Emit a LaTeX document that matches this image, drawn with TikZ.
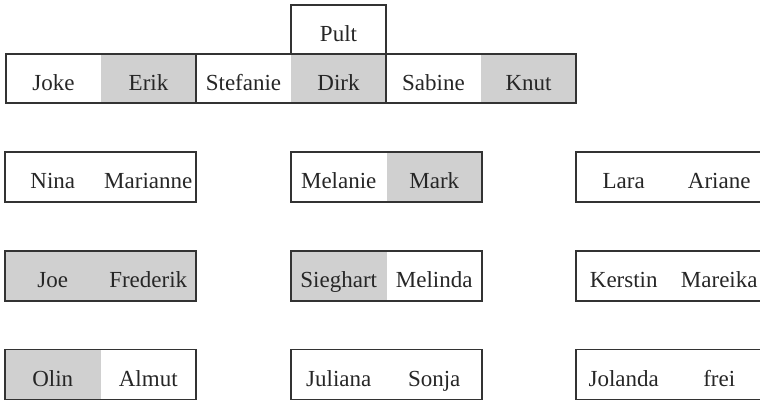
\documentclass[tikz,border=0pt]{standalone}
\usepackage{fontspec}
\setmainfont{Liberation Serif}
\definecolor{seat}{HTML}{D0D0D0}
\definecolor{edge}{HTML}{333333}
\begin{document}
\begin{tikzpicture}[x=1pt,y=-1pt,
  cell/.style={minimum width=95pt, minimum height=49pt, inner sep=0pt, outer sep=0pt,
    text height=23pt, text depth=0pt, font=\fontsize{23}{27}\selectfont, text=black!85},
  wcell/.style={cell, minimum width=95.5pt, minimum height=50pt},
  occ/.style={fill=seat},
  desk/.style={draw=edge, line width=1.7pt}]
\useasboundingbox (0,0) rectangle (760,399);
\clip (0,0) rectangle (760,399);
% teacher desk row
\node[cell] (joke) at (53.5,78.5) {Joke};
\node[cell,occ] (erik) at (148.5,78.5) {Erik};
\node[cell] (stefanie) at (243.5,78.5) {Stefanie};
\node[cell,occ] (dirk) at (338.5,78.5) {Dirk};
\node[cell] (sabine) at (433.5,78.5) {Sabine};
\node[cell,occ] (knut) at (528.5,78.5) {Knut};
\node[cell,desk] (pult) at (338.5,29.5) {Pult};
\draw[desk] (joke.north west) rectangle (knut.south east);
\draw[desk] (erik.north east) -- (erik.south east);
\draw[desk] (dirk.north east) -- (dirk.south east);
% column 1
\node[wcell] (nina) at (52.75,177) {Nina};
\node[wcell] (marianne) at (148.25,177) {Marianne};
\node[wcell,occ] (joe) at (52.75,276) {Joe};
\node[wcell,occ] (frederik) at (148.25,276) {Frederik};
\node[wcell,occ] (olin) at (52.75,374.5) {Olin};
\node[wcell] (almut) at (148.25,374.5) {Almut};
% column 2
\node[wcell] (melanie) at (338.75,177) {Melanie};
\node[wcell,occ] (mark) at (434.25,177) {Mark};
\node[wcell,occ] (sieghart) at (338.75,276) {Sieghart};
\node[wcell] (melinda) at (434.25,276) {Melinda};
\node[wcell] (juliana) at (338.75,374.5) {Juliana};
\node[wcell] (sonja) at (434.25,374.5) {Sonja};
% column 3
\node[wcell] (lara) at (623.75,177) {Lara};
\node[wcell] (ariane) at (719.25,177) {Ariane};
\node[wcell] (kerstin) at (623.75,276) {Kerstin};
\node[wcell] (mareika) at (719.25,276) {Mareika};
\node[wcell] (jolanda) at (623.75,374.5) {Jolanda};
\node[wcell] (frei) at (719.25,374.5) {frei};
% desk outlines
\draw[desk] (nina.north west) rectangle (marianne.south east);
\draw[desk] (joe.north west) rectangle (frederik.south east);
\draw[desk] (olin.north west) rectangle (almut.south east);
\draw[desk] (melanie.north west) rectangle (mark.south east);
\draw[desk] (sieghart.north west) rectangle (melinda.south east);
\draw[desk] (juliana.north west) rectangle (sonja.south east);
\draw[desk] (lara.north west) rectangle (ariane.south east);
\draw[desk] (kerstin.north west) rectangle (mareika.south east);
\draw[desk] (jolanda.north west) rectangle (frei.south east);
\end{tikzpicture}
\end{document}
